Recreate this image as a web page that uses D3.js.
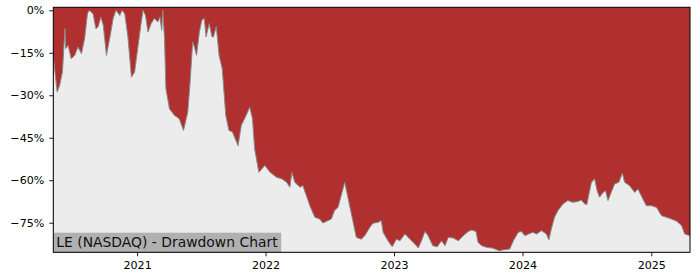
<!DOCTYPE html>
<html>
<head>
<meta charset="utf-8">
<script src="https://cdn.jsdelivr.net/npm/d3@7"></script>
<style>
  body { margin: 0; background: #fff; }
  svg text { font-family: "DejaVu Sans", sans-serif; }
</style>
</head>
<body>
<div id="chart"></div>
<script>
// drawdown readings (fraction below previous peak)
const dates = [
  "2020-05-08","2020-05-19","2020-05-26","2020-06-03","2020-06-10","2020-06-12","2020-06-19","2020-06-28",
  "2020-07-08","2020-07-17","2020-07-27","2020-08-05","2020-08-13","2020-08-18","2020-08-29","2020-09-06",
  "2020-09-12","2020-09-20","2020-09-27","2020-10-06","2020-10-16","2020-10-25","2020-11-02","2020-11-13",
  "2020-11-19","2020-11-27","2020-12-06","2020-12-16","2020-12-25","2021-01-04","2021-01-13","2021-01-18",
  "2021-01-25","2021-02-01","2021-02-10","2021-02-19","2021-03-01","2021-03-07","2021-03-12","2021-03-15",
  "2021-03-20","2021-03-24","2021-04-03","2021-04-17","2021-05-01","2021-05-13","2021-05-25","2021-05-31",
  "2021-06-08","2021-06-13","2021-06-19","2021-06-27","2021-07-04","2021-07-11","2021-07-16","2021-07-25",
  "2021-08-02","2021-08-06","2021-08-14","2021-08-22","2021-08-31","2021-09-10","2021-09-19","2021-09-29",
  "2021-10-15","2021-10-24","2021-11-07","2021-11-17","2021-11-25","2021-12-01","2021-12-13","2021-12-30",
  "2022-01-14","2022-02-02","2022-02-16","2022-03-02","2022-03-11","2022-03-17","2022-03-25","2022-04-09",
  "2022-04-17","2022-05-07","2022-05-21","2022-06-04","2022-06-13","2022-06-27","2022-07-07","2022-07-16",
  "2022-07-26","2022-08-04","2022-08-14","2022-08-20","2022-08-28","2022-09-06","2022-09-16","2022-09-30",
  "2022-10-10","2022-10-24","2022-11-02","2022-11-16","2022-11-26","2022-12-01","2022-12-15","2022-12-27",
  "2023-01-08","2023-01-18","2023-02-01","2023-02-15","2023-03-01","2023-03-11","2023-03-20","2023-03-30",
  "2023-04-08","2023-04-21","2023-05-04","2023-05-16","2023-05-26","2023-06-04","2023-06-18","2023-07-03",
  "2023-07-17","2023-07-31","2023-08-10","2023-08-22","2023-08-28","2023-09-07","2023-09-21","2023-10-05",
  "2023-10-15","2023-10-27","2023-11-07","2023-11-26","2023-12-06","2023-12-20","2023-12-29","2024-01-08",
  "2024-01-22","2024-01-31","2024-02-10","2024-02-24","2024-03-09","2024-03-16","2024-03-23","2024-04-01",
  "2024-04-11","2024-04-25","2024-05-09","2024-05-23","2024-06-07","2024-06-16","2024-06-26","2024-07-02",
  "2024-07-08","2024-07-15","2024-07-24","2024-07-31","2024-08-07","2024-08-17","2024-08-24","2024-08-31",
  "2024-09-09","2024-09-19","2024-10-01","2024-10-11","2024-10-17","2024-10-31","2024-11-15","2024-11-24",
  "2024-12-08","2024-12-18","2025-01-02","2025-01-16","2025-01-30","2025-02-13","2025-02-27","2025-03-14",
  "2025-03-28","2025-04-06","2025-04-21"
];
const drawdown = [
  -16.5,-28.9,-26.5,-21.8,-6.5,-13.5,-12.4,-17.1,
  -15.9,-13.0,-15.3,-10.0,-1.2,0.0,-1.2,-6.5,
  -5.9,-2.4,-5.3,-15.9,-9.4,-2.9,0.0,-1.8,
  0.0,-1.2,-9.4,-23.6,-21.8,-12.4,-4.1,0.0,
  -1.8,-7.7,-4.7,-2.9,-4.1,-2.4,-7.1,0.0,
  -10.0,-27.7,-34.8,-37.1,-38.3,-42.4,-36.0,-26.5,
  -11.2,-13.0,-15.9,-7.7,-3.5,-2.9,-9.4,-4.7,
  -9.4,-9.4,-5.7,-15.9,-20.6,-37.1,-42.4,-43.0,
  -47.8,-40.7,-37.1,-34.2,-38.3,-48.9,-57.2,-54.8,
  -57.2,-59.0,-59.5,-60.7,-62.5,-57.2,-60.7,-62.5,
  -61.9,-69.0,-73.1,-73.7,-75.1,-74.3,-73.7,-70.7,
  -69.6,-65.4,-60.7,-64.3,-69.0,-74.3,-80.2,-80.8,
  -79.6,-76.7,-75.2,-74.9,-74.3,-78.4,-81.4,-83.5,
  -80.8,-81.4,-79.0,-80.8,-82.5,-83.9,-81.4,-78.1,
  -79.6,-83.1,-83.5,-81.4,-83.1,-80.2,-80.4,-81.4,
  -79.6,-78.1,-77.6,-78.1,-82.0,-83.1,-83.7,-83.9,
  -84.3,-84.9,-84.6,-84.3,-81.4,-78.4,-78.1,-79.6,
  -78.8,-78.4,-79.0,-77.8,-79.0,-81.1,-77.2,-73.1,
  -70.7,-68.4,-67.2,-67.8,-67.5,-67.0,-68.4,-68.6,
  -64.8,-60.7,-59.5,-63.7,-66.0,-64.3,-63.7,-67.2,
  -64.3,-61.3,-60.7,-57.5,-60.7,-61.9,-64.3,-63.1,
  -66.6,-69.0,-69.0,-69.6,-72.5,-73.1,-73.7,-74.5,
  -76.0,-79.0,-79.6
];
const yTicks = [0, -15, -30, -45, -60, -75];
const xTicks = ["2021-01-01", "2022-01-01", "2023-01-01", "2024-01-01", "2025-01-01"];
const title = "LE (NASDAQ) - Drawdown Chart";

const width = 700, height = 280;
const margin = {top: 7.3, right: 10, bottom: 27.7, left: 53.3};
const w = width - margin.left - margin.right;
const h = height - margin.top - margin.bottom;

const parse = d3.utcParse("%Y-%m-%d");
const data = dates.map((d, i) => ({date: parse(d), dd: drawdown[i]}));

const x = d3.scaleUtc()
  .domain([parse(dates[0]), parse(dates[dates.length - 1])])
  .range([0, w]);
const y = d3.scaleLinear()
  .domain([-85.45, 1.06])
  .range([h, 0]);

const svg = d3.select("#chart").append("svg")
  .attr("width", width)
  .attr("height", height);
const g = svg.append("g")
  .attr("transform", "translate(" + margin.left + "," + margin.top + ")");

// red background = drawdown area, grey below the curve
g.append("rect")
  .attr("width", w).attr("height", h)
  .attr("fill", "#b03030");

const area = d3.area()
  .x(d => x(d.date))
  .y0(h)
  .y1(d => y(d.dd));
g.append("path")
  .datum(data)
  .attr("d", area)
  .attr("fill", "#ececec");

const line = d3.line()
  .x(d => x(d.date))
  .y(d => y(d.dd));
g.append("path")
  .datum(data)
  .attr("d", line)
  .attr("fill", "none")
  .attr("stroke", "#8a8a8a")
  .attr("stroke-width", 1);

// title box
const label = g.append("g").attr("transform", "translate(0," + h + ")");
const labelText = label.append("text")
  .attr("x", 3)
  .attr("y", -5.5)
  .attr("font-size", "13.9px")
  .attr("fill", "#111")
  .text(title);
const bb = labelText.node().getBBox();
label.insert("rect", "text")
  .attr("x", 0)
  .attr("y", -19.6)
  .attr("width", bb.width + 6)
  .attr("height", 19.6)
  .attr("fill", "#b0b0b0");

// axes
const yAxis = d3.axisLeft(y)
  .tickValues(yTicks)
  .tickSize(4)
  .tickPadding(5)
  .tickFormat(d => (d < 0 ? "\u2212" + Math.abs(d) : d) + "%");
const gy = g.append("g").call(yAxis);

const xAxis = d3.axisBottom(x)
  .tickValues(xTicks.map(parse))
  .tickSize(4)
  .tickPadding(5)
  .tickFormat(d3.utcFormat("%Y"));
const gx = g.append("g")
  .attr("transform", "translate(0," + h + ")")
  .call(xAxis);

[gx, gy].forEach(a => {
  a.select(".domain").remove();
  a.selectAll("text").attr("font-size", "11.1px").attr("fill", "#000")
    .style("font-family", "DejaVu Sans, sans-serif");
  a.selectAll("line").attr("stroke", "#000").attr("stroke-width", 0.9);
});

g.append("rect")
  .attr("width", w).attr("height", h)
  .attr("fill", "none")
  .attr("stroke", "#000")
  .attr("stroke-width", 1);
</script>
</body>
</html>
